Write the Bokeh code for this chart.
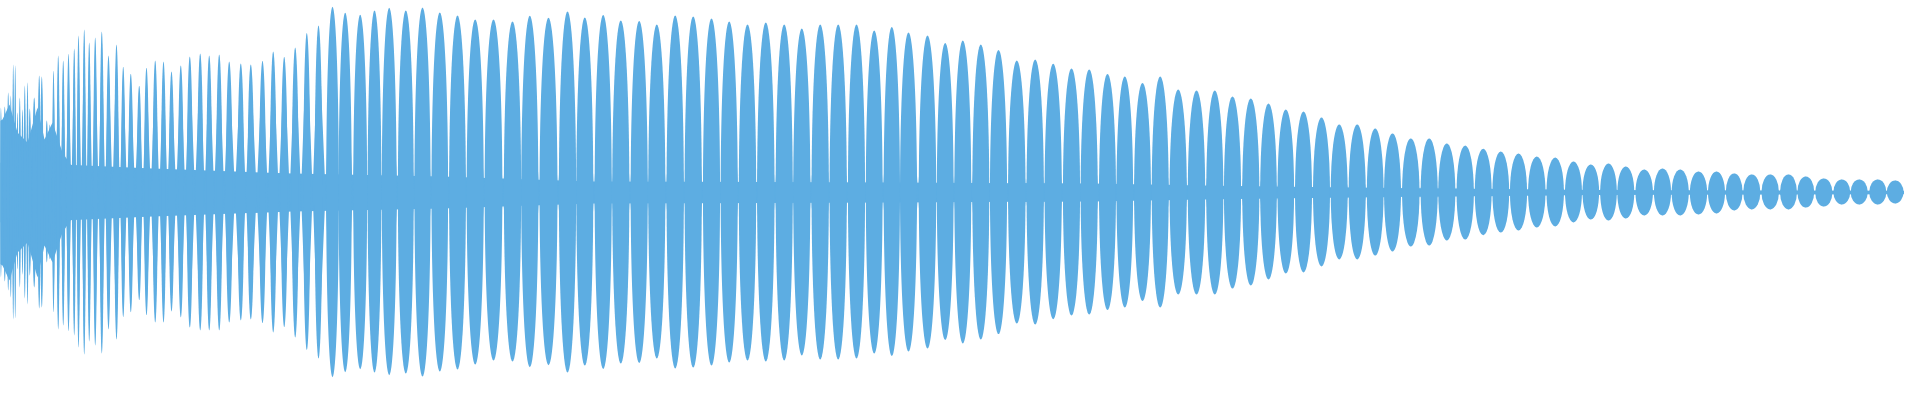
import numpy as np
from bokeh.plotting import figure
from bokeh.models import Range1d, ColumnDataSource
from bokeh.embed import file_html
from bokeh.resources import INLINE

# Beat lobes of the waveform: position (sample index), upper and lower envelope amplitude
lobe_t = [1, 2.7, 5.7, 8.3, 12.3, 15.7, 18.3, 20.7, 22.7, 25, 27.3, 30, 32.3, 35, 37.3,
          41.7, 46.7, 49.3, 54.3, 57.3, 61, 65.7, 70.7, 76, 81.7, 86, 91.7, 96.7, 102.7,
          109.3, 116, 124, 130.7, 138.3, 146.7, 154, 162.7, 171, 179, 188.3, 197.3, 207.7,
          216.7, 226.7, 236.7, 248.3, 258.3, 270, 280.7, 291.7, 302.7, 314.3, 326,
          340, 352.7, 367.7, 382, 396.7, 413.3, 430, 447.3, 465, 482.7, 501, 520, 537.3,
          556, 575, 592.3, 610.7, 628.3, 646.7, 664.3, 682.7, 700.7, 719, 736.7, 755,
          773.3, 791.7, 809.3, 827.7, 845.7, 864, 881.7, 899.3, 916, 935, 952.7, 970.3,
          988.3, 1006, 1024.3, 1042.7, 1060.7, 1079, 1096.7, 1115, 1132.3, 1150, 1167.7,
          1185.7, 1204, 1222.3, 1240, 1258.3, 1276, 1293.3, 1311, 1329, 1346.7, 1364.7,
          1382.7, 1400, 1418.3, 1436.7, 1454.3, 1472.7, 1490.7, 1508.3, 1526, 1544.3,
          1562.7, 1581, 1598.3, 1616, 1633.3, 1651.7, 1670, 1687.7, 1706, 1724, 1741.7,
          1759.3, 1777.7, 1796, 1813.3, 1831.3, 1849.3, 1866.7, 1885.3, 1902.7, 1920.5]
lobe_top = [83, 70, 70, 85, 86, 100, 97, 128, 127, 80, 95, 83, 107, 110, 84,
            95, 117, 116, 72, 68, 122, 137, 132, 139, 144, 157, 163, 150, 155,
            161, 137, 148, 126, 119, 107, 125, 132, 131, 121, 127, 136, 139,
            137, 138, 131, 129, 128, 132, 141, 136, 145, 160, 167,
            186, 180, 178, 182, 185, 182, 185, 180, 177, 173, 173, 171, 177,
            175, 181, 175, 178, 172, 172, 168, 177, 176, 174, 171, 168,
            170, 168, 164, 168, 168, 168, 162, 166, 160, 157, 150, 152,
            148, 143, 132, 133, 129, 124, 123, 119, 116, 110, 116,
            103, 102, 102, 96, 94, 89, 83, 81, 75, 68, 68,
            64, 59, 54, 54, 49, 47, 44, 41, 39, 36,
            35, 31, 28, 29, 26, 23, 24, 23, 21, 21, 19,
            18, 18, 18, 16, 14, 13, 13, 13, 12, 12]
lobe_bottom = [82, 70, 70, 85, 89, 98, 105, 127, 126, 77, 95, 82, 106, 112, 83,
               95, 116, 115, 70, 67, 120, 137, 133, 139, 143, 155, 162, 149, 153,
               161, 137, 147, 125, 120, 108, 123, 130, 130, 119, 125, 135, 138,
               138, 138, 130, 128, 127, 131, 140, 135, 145, 158, 166,
               185, 180, 177, 180, 183, 181, 184, 179, 177, 172, 168, 169, 175,
               173, 180, 173, 177, 171, 171, 166, 176, 175, 173, 170, 168,
               169, 168, 163, 167, 167, 166, 161, 164, 159, 156, 148, 151,
               147, 142, 131, 132, 127, 123, 122, 118, 115, 109, 115,
               102, 102, 102, 96, 93, 87, 81, 80, 74, 67, 67,
               63, 59, 54, 53, 48, 47, 43, 40, 38, 35,
               34, 30, 27, 28, 26, 23, 23, 23, 22, 21, 18,
               17, 17, 17, 15, 14, 12, 12, 12, 11, 11]

# Residual amplitude between the beats (envelope minimum)
neck_t = [0, 70, 160, 300, 450, 600, 900, 1100, 1210, 1400, 1600, 1920]
neck_amp = [30, 28, 24, 19, 16, 11, 10, 9, 7, 4.5, 2.5, 1.7]

# Dense onset: filled core of the first samples
core_t = [0, 5, 10, 17, 25, 35, 45, 52, 60, 70, 80]
core_amp = [63, 70, 73, 88, 60, 50, 85, 53, 70, 40, 25]

COLOR = "#5DADE2"

t = np.array(lobe_t, dtype=float)
top = np.array(lobe_top, dtype=float)
bot = np.array(lobe_bottom, dtype=float)

gaps = np.diff(t)
left_gap = np.concatenate([[gaps[0]], gaps])
right_gap = np.concatenate([gaps, [gaps[-1]]])
spacing = (left_gap + right_gap) / 2
factor = np.where(t < 60, 0.8, np.where(t < 330, 0.6, 0.95))

p = figure(width=1904, height=384, output_backend="svg", toolbar_location=None,
           x_range=Range1d(8, 1912), y_range=Range1d(-192, 192), min_border=0)
p.axis.visible = False
p.grid.visible = False
p.outline_line_color = None
p.background_fill_color = "white"
p.border_fill_color = "white"

# neck band
nt = np.array(neck_t, dtype=float)
na = np.array(neck_amp, dtype=float)
p.varea(x=nt, y1=-na, y2=na, fill_color=COLOR)

# dense core at the onset
ct = np.array(core_t, dtype=float)
ca = np.array(core_amp, dtype=float)
p.varea(x=ct, y1=-ca, y2=ca, fill_color=COLOR)

# pointed envelope between lobes
necks_left = t - left_gap / 2
xs = np.empty(2 * len(t) + 1)
y_hi = np.zeros(2 * len(t) + 1)
y_lo = np.zeros(2 * len(t) + 1)
xs[0:-1:2] = necks_left
xs[1::2] = t
xs[-1] = t[-1] + right_gap[-1] / 2
y_hi[1::2] = top
y_lo[1::2] = -bot
p.varea(x=xs, y1=y_lo, y2=y_hi, fill_color=COLOR)

# rounded lobe bodies
src = ColumnDataSource(dict(x=t, y=(top - bot) / 2, w=spacing * factor, h=top + bot))
p.ellipse(x="x", y="y", width="w", height="h", source=src,
          fill_color=COLOR, line_color=None)

open("out.html", "w").write(file_html(p, INLINE))
